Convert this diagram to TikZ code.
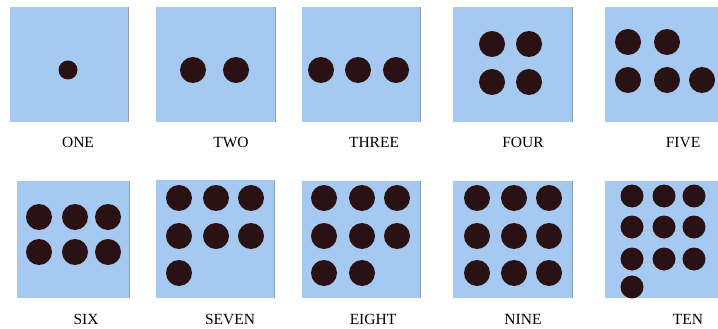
\documentclass[tikz,border=0pt]{standalone}
\usepackage{fontspec}
\setmainfont{Liberation Serif}
\usetikzlibrary{positioning}

\definecolor{cardblue}{RGB}{166,201,242}
\definecolor{cardedge}{RGB}{140,160,190}
\definecolor{dotbrown}{RGB}{42,18,20}

\tikzset{
  card/.style={fill=cardblue, draw=none},
  dotfill/.style={fill=dotbrown},
  numlabel/.style={font=\fontsize{15.5}{18}\selectfont, inner sep=0pt, anchor=base}
}

\begin{document}
\begin{tikzpicture}[x=1pt, y=-1pt]
    % Frame of the page
    \useasboundingbox (0,0) rectangle (718,329);
    \fill[white] (0,0) rectangle (718,329);

    % Cards, top row
    \fill[card] (10,7) rectangle (128,122);
    \fill[card] (156,7) rectangle (275,122);
    \fill[card] (302,7) rectangle (420,122);
    \fill[card] (453,7) rectangle (572,122);
    \fill[card] (605,7) rectangle (718,122);

    % Cards, bottom row
    \fill[card] (17,181) rectangle (129,298);
    \fill[card] (156,180) rectangle (274,298);
    \fill[card] (302,181) rectangle (420,298);
    \fill[card] (453,181) rectangle (572,298);
    \fill[card] (605,181) rectangle (718,298);

    % Right edges of the cards
    \foreach \x/\ya/\yb in {128/7/122, 275/7/122, 420/7/122, 572/7/122,
                            129/181/298, 274/180/298, 420/181/298, 572/181/298}
        \draw[cardedge, line width=0.8pt] (\x,\ya) -- (\x,\yb);

    % ONE
    \fill[dotfill] (68,70) circle (9.5);
    % TWO
    \foreach \x in {193,236}
        \fill[dotfill] (\x,70) circle (13);
    % THREE
    \foreach \x in {321,358,396}
        \fill[dotfill] (\x,70) circle (13);
    % FOUR
    \foreach \x in {492,529}
        \foreach \y in {44,82}
            \fill[dotfill] (\x,\y) circle (13);
    % FIVE
    \foreach \x/\y in {628/42, 667/42, 628/80, 667/80, 702/80}
        \fill[dotfill] (\x,\y) circle (13);

    % SIX
    \foreach \x in {39,75,108}
        \foreach \y in {217,252}
            \fill[dotfill] (\x,\y) circle (13);
    % SEVEN
    \foreach \x/\y in {179/198, 216/198, 251/198, 179/236, 216/236, 251/236, 179/273}
        \fill[dotfill] (\x,\y) circle (13);
    % EIGHT
    \foreach \x/\y in {324/198, 362/198, 397/198, 324/236, 362/236, 397/236, 324/273, 362/273}
        \fill[dotfill] (\x,\y) circle (13);
    % NINE
    \foreach \x in {477,514,549}
        \foreach \y in {198,236,273}
            \fill[dotfill] (\x,\y) circle (13);
    % TEN
    \foreach \x/\y in {632/196, 664/196, 694/196, 632/227, 664/227, 694/227,
                       632/259, 664/259, 694/259, 632/287}
        \fill[dotfill] (\x,\y) circle (11.5);

    % Labels
    \node[numlabel] (one)   at (78,147)  {ONE};
    \node[numlabel] (two)   at (231,147) {TWO};
    \node[numlabel] (three) at (374,147) {THREE};
    \node[numlabel] (four)  at (523,147) {FOUR};
    \node[numlabel] (five)  at (683,147) {FIVE};
    \node[numlabel] (six)   at (86,324)  {SIX};
    \node[numlabel] (seven) at (230,324) {SEVEN};
    \node[numlabel] (eight) at (373,324) {EIGHT};
    \node[numlabel] (nine)  at (523,324) {NINE};
    \node[numlabel] (ten)   at (688,324) {TEN};
\end{tikzpicture}
\end{document}
